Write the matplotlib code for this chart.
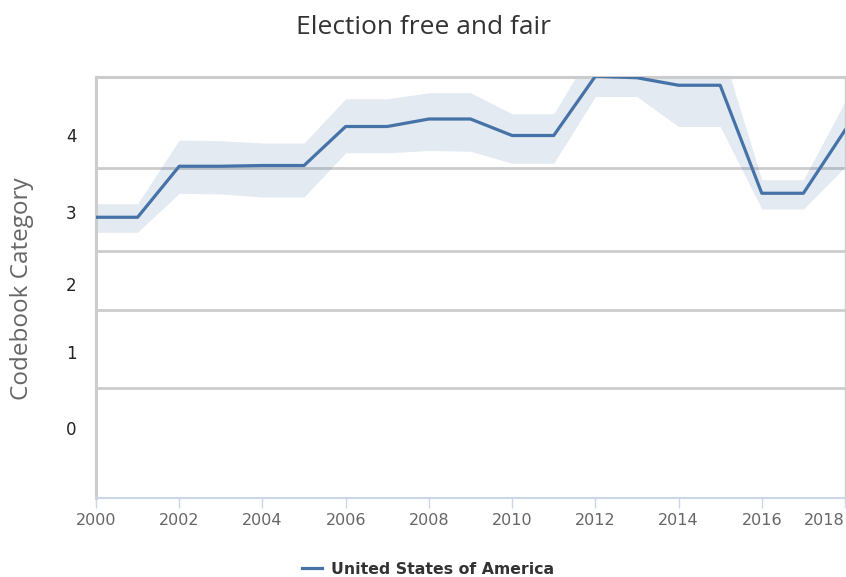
import matplotlib
matplotlib.use("Agg")
import matplotlib.pyplot as plt
from matplotlib.lines import Line2D

# Election free and fair: estimate with credible interval, United States of America
years = list(range(2000, 2019))
estimate = [2.81, 2.81, 3.49, 3.49, 3.50, 3.50, 4.02, 4.02, 4.12, 4.12,
            3.90, 3.90, 4.69, 4.67, 4.57, 4.57, 3.13, 3.13, 3.97]
upper = [2.99, 2.99, 3.84, 3.83, 3.80, 3.80, 4.39, 4.39, 4.47, 4.47,
         4.19, 4.19, 5.11, 5.11, 5.12, 5.12, 3.31, 3.31, 4.35]
lower = [2.61, 2.61, 3.13, 3.12, 3.08, 3.08, 3.67, 3.67, 3.70, 3.69,
         3.53, 3.53, 4.42, 4.42, 4.02, 4.02, 2.92, 2.92, 3.48]

category_labels = ["0", "1", "2", "3", "4"]
category_positions = [0.0, 1.01, 1.92, 2.88, 3.91]
thresholds = [0.533, 1.573, 2.36, 3.467]
x_ticks = list(range(2000, 2019, 2))
series_name = "United States of America"

LINE = "#4572A7"
GRID = "#cccccc"
AXIS = "#ccd6eb"

W, H = 846, 577
fig = plt.figure(figsize=(W / 100, H / 100), dpi=100)
ax = fig.add_axes([96 / W, 1 - 498 / H, (845 - 96) / W, (498 - 77) / H])

ax.set_xlim(2000, 2018)
ax.set_ylim(-0.933, 4.68)

for t in thresholds:
    ax.axhline(t, color=GRID, lw=2, zorder=1)

ax.fill_between(years, lower, upper, color=LINE, alpha=0.15, lw=0, zorder=2)
ax.plot(years, estimate, color=LINE, lw=2.3, zorder=3)

# plot border
for side in ("left", "top", "right"):
    ax.spines[side].set_color(GRID)
ax.spines["left"].set_linewidth(2.2)
ax.spines["top"].set_linewidth(2.2)
ax.spines["right"].set_linewidth(1.0)
ax.spines["bottom"].set_color(AXIS)
ax.spines["bottom"].set_linewidth(1.5)

ax.set_yticks(category_positions)
ax.set_yticklabels(category_labels)
ax.tick_params(axis="y", length=0, pad=14, labelsize=12, labelcolor="#222222")

ax.set_xticks(x_ticks)
ax.set_xticklabels([str(y) for y in x_ticks])
ax.tick_params(axis="x", direction="out", length=7, width=1, color=AXIS,
               labelsize=11.5, labelcolor="#666666", pad=4)
last = ax.get_xticklabels()[-1]
last.set_horizontalalignment("right")

fig.text(22 / W, 1 - 289 / H, "Codebook Category", rotation=90, ha="center",
         va="center", fontsize=17.5, color="#666666", family="Open Sans")

fig.text(424 / W, 1 - 27 / H, "Election free and fair", ha="center", va="center",
         fontsize=19, color="#333333", family="Open Sans")

handle = Line2D([], [], color=LINE, lw=2.3)
fig.legend([handle], [series_name], loc="center", bbox_to_anchor=(428 / W, 1 - 569 / H),
           frameon=False, handlelength=1.3, handletextpad=0.6,
           prop={"weight": "bold", "size": 11.3}, labelcolor="#333333")

fig.savefig("out.png", dpi=100)
